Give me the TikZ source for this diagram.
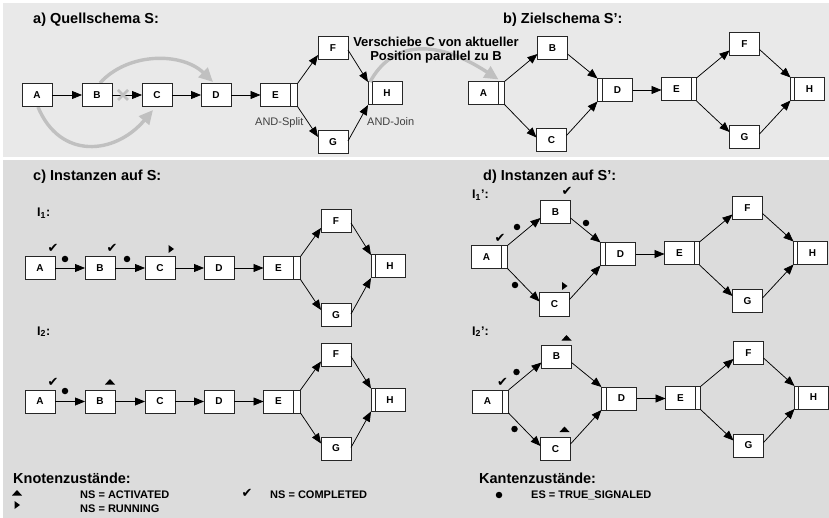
\documentclass[tikz,border=0pt]{standalone}
\usepackage{fontspec}
\setmainfont{Liberation Sans}
\newfontfamily\symfont{DejaVu Sans}
\usetikzlibrary{arrows.meta,calc}
\definecolor{panelA}{HTML}{E9E9E9}
\definecolor{panelB}{HTML}{DCDCDC}
\definecolor{movegray}{HTML}{C0C0C0}
\tikzset{
  box/.style={draw=black!85, fill=white, line width=1pt, minimum width=30pt, minimum height=23pt,
    inner sep=0pt, outer sep=0pt, font=\bfseries\fontsize{10}{10}\selectfont},
  barbox/.style={draw=black!85, fill=white, line width=1pt, minimum height=23pt, inner sep=0pt, outer sep=0pt},
  arr/.style={draw=black, line width=0.75pt, -{Triangle[length=10pt,width=8pt]}},
  movearr/.style={draw=movegray, line width=3.4pt, -{Triangle[length=14pt,width=13pt]}},
  title/.style={font=\bfseries\fontsize{14.5}{16}\selectfont, inner sep=0pt, anchor=base west},
  inst/.style={font=\bfseries\fontsize{12.5}{14}\selectfont, inner sep=0pt, anchor=base west},
  legend/.style={font=\bfseries\fontsize{11}{13}\selectfont, inner sep=0pt, anchor=base west},
  small/.style={font=\fontsize{11}{13}\selectfont, text=black!75, inner sep=0pt, anchor=base west},
  chk/.style={font=\symfont\fontsize{13}{13}\selectfont, inner sep=0pt},
  sdot/.style={circle, fill=black, minimum size=6.5pt, inner sep=0pt},
}
% linear schema S: #1 prefix, #2/#3 centre of A
\newcommand{\graphS}[3]{%
  \node[box] (#1A) at (#2,#3) {A};
  \node[box] (#1B) at (#2+60,#3) {B};
  \node[box] (#1C) at (#2+120,#3) {C};
  \node[box] (#1D) at (#2+179,#3) {D};
  \node[box] (#1E) at (#2+238.5,#3) {E};
  \node[barbox, minimum width=7pt, anchor=west] (#1Eb) at (#1E.east) {};
  \node[box] (#1F) at (#2+296,#3-47) {F};
  \node[box] (#1G) at (#2+296,#3+47) {G};
  \node[box] (#1H) at (#2+350,#3-1.5) {H};
  \node[barbox, minimum width=4pt, anchor=east] (#1Hb) at (#1H.west) {};
  \draw[arr] (#1A.east) -- (#1B.west);
  \draw[arr] (#1B.east) -- (#1C.west);
  \draw[arr] (#1C.east) -- (#1D.west);
  \draw[arr] (#1D.east) -- (#1E.west);
  \draw[arr] (#1Eb.north east) -- ([yshift=-7pt]#1F.west);
  \draw[arr] (#1Eb.south east) -- ([yshift=5pt]#1G.west);
  \draw[arr] ([yshift=-2pt]#1F.east) -- (#1Hb.north west);
  \draw[arr] ([yshift=1pt]#1G.east) -- (#1Hb.south west);
}
% target schema S': #1 prefix, #2/#3 centre of A
\newcommand{\graphSp}[3]{%
  \node[box] (#1A) at (#2,#3) {A};
  \node[barbox, minimum width=6pt, anchor=west] (#1Ab) at (#1A.east) {};
  \node[box] (#1B) at (#2+69,#3-45) {B};
  \node[box] (#1C) at (#2+68,#3+47.5) {C};
  \node[box] (#1D) at (#2+134,#3-3) {D};
  \node[barbox, minimum width=5pt, anchor=east] (#1Db) at (#1D.west) {};
  \node[box] (#1E) at (#2+193,#3-3.5) {E};
  \node[barbox, minimum width=5pt, anchor=west] (#1Eb) at (#1E.east) {};
  \node[box] (#1F) at (#2+261,#3-48.5) {F};
  \node[box] (#1G) at (#2+261,#3+44) {G};
  \node[box] (#1H) at (#2+326,#3-4) {H};
  \node[barbox, minimum width=4pt, anchor=east] (#1Hb) at (#1H.west) {};
  \draw[arr] (#1Ab.north east) -- ([yshift=-6pt]#1B.west);
  \draw[arr] (#1Ab.south east) -- ([yshift=3pt]#1C.west);
  \draw[arr] ([yshift=-6pt]#1B.east) -- (#1Db.north west);
  \draw[arr] ([yshift=5pt]#1C.east) -- (#1Db.south west);
  \draw[arr] (#1D.east) -- (#1D.east -| #1E.west);
  \draw[arr] (#1Eb.north east) -- ([yshift=-6pt]#1F.west);
  \draw[arr] (#1Eb.south east) -- ([yshift=5pt]#1G.west);
  \draw[arr] ([yshift=-5pt]#1F.east) -- (#1Hb.north west);
  \draw[arr] ([yshift=3pt]#1G.east) -- (#1Hb.south west);
}
\newcommand{\actmark}[1]{\fill[black] (#1) ++(-5,2.5) -- ++(10,0) -- ++(-5,-5.5) -- cycle;}
\newcommand{\runmark}[1]{\fill[black] (#1) ++(-2.5,-4) -- ++(0,8) -- ++(5.5,-4) -- cycle;}
\begin{document}
\begin{tikzpicture}[x=1pt,y=-1pt]
\useasboundingbox (0,0) rectangle (829,518);
\fill[panelA] (3,3) rectangle (829,157);
\fill[panelB] (3,160) rectangle (829,518);

% ---------- a) source schema
\node[title] (ta) at (33,24) {a) Quellschema S:};
\node[title] (tb) at (503,24) {b) Zielschema S’:};
\coordinate (gBDs) at (100,83);
\coordinate (gBDe) at (213,82);
\coordinate (gACs) at (38,107);
\coordinate (gACe) at (153,110);
\draw[movearr] (gBDs) .. controls (128,52) and (182,52) .. (gBDe);
\draw[movearr] (gACs) .. controls (60,160) and (115,155) .. (gACe);
\graphS{a}{37}{95}
\draw[movegray, line width=2.6pt] (118,90) -- (128,100) (118,100) -- (128,90);
\node[small] (andsplit) at (255,126) {AND-Split};
\node[small] (andjoin) at (367,126) {AND-Join};

% ---------- b) target schema
\graphSp{b}{483.5}{93}
\draw[movearr] ([xshift=2pt]aHb.north west) .. controls (390,45) and (430,35) .. ([yshift=2pt]bAb.north west);
\node[font=\bfseries\fontsize{13}{14.5}\selectfont, align=center, inner sep=0pt] (movetxt) at (436,50)
  {Verschiebe C von aktueller\\Position parallel zu B};

% ---------- c) instances on S
\node[title] (tc) at (33,181) {c) Instanzen auf S:};
\node[inst] (i1) at (37,217) {I\textsubscript{1}:};
\graphS{p}{40}{268}
\node[chk] (pchkA) at ([xshift=-2pt,yshift=8pt]pA.north east) {✔};
\node[chk] (pchkB) at ([xshift=-3pt,yshift=8pt]pB.north east) {✔};
\coordinate (prunC) at ([xshift=-4pt,yshift=7.5pt]pC.north east);
\runmark{prunC}
\node[sdot] (pdot1) at ([xshift=10pt,yshift=9pt]pA.east) {};
\node[sdot] (pdot2) at ([xshift=12pt,yshift=9pt]pB.east) {};

\node[inst] (i2) at (37,335) {I\textsubscript{2}:};
\graphS{q}{40}{401.5}
\node[chk] (qchkA) at ([xshift=-2pt,yshift=8pt]qA.north east) {✔};
\coordinate (qactB) at ([xshift=-5pt,yshift=8pt]qB.north east);
\actmark{qactB}
\node[sdot] (qdot1) at ([xshift=10pt,yshift=10.5pt]qA.east) {};

% ---------- d) instances on S'
\node[title] (td) at (483,181) {d) Instanzen auf S’:};
\node[inst] (i1p) at (472,199) {I\textsubscript{1}’:};
\graphSp{r}{486.5}{257}
\node[chk] (rchkA) at ([xshift=-1.5pt,yshift=7pt]rA.north east) {✔};
\node[chk] (rchkB) at ([xshift=-3.5pt,yshift=9pt]rB.north east) {✔};
\coordinate (rrunC) at ([xshift=-5pt,yshift=7pt]rC.north east);
\runmark{rrunC}
\node[sdot] (rdot1) at ([xshift=9.5pt,yshift=18.5pt]rAb.north east) {};
\node[sdot] (rdot2) at ([xshift=15.5pt,yshift=-11pt]rB.east) {};
\node[sdot] (rdot3) at ([xshift=7.5pt,yshift=-16.5pt]rAb.south east) {};

\node[inst] (i2p) at (472,335) {I\textsubscript{2}’:};
\graphSp{s}{487.5}{401.5}
\node[chk] (schkA) at ([xshift=0pt,yshift=8pt]sA.north east) {✔};
\coordinate (sactB) at ([xshift=-5pt,yshift=7pt]sB.north east);
\actmark{sactB}
\coordinate (sactC) at ([xshift=-6pt,yshift=8pt]sC.north east);
\actmark{sactC}
\node[sdot] (sdot1) at ([xshift=8pt,yshift=18pt]sAb.north east) {};
\node[sdot] (sdot2) at ([xshift=6pt,yshift=-16pt]sAb.south east) {};

% ---------- legend
\node[title] (kn) at (13,483) {Knotenzustände:};
\coordinate (lact) at (17,493);
\actmark{lact}
\node[legend] (lacttxt) at (80,498) {NS = ACTIVATED};
\coordinate (lrun) at (17,505);
\runmark{lrun}
\node[legend] (lruntxt) at (80,512) {NS = RUNNING};
\node[chk] (lchk) at (247,493) {✔};
\node[legend] (lchktxt) at (270,498) {NS = COMPLETED};
\node[title] (ka) at (479,483) {Kantenzustände:};
\node[sdot] (ldot) at (499,495) {};
\node[legend] (ldottxt) at (531,498) {ES = TRUE\_SIGNALED};
\end{tikzpicture}
\end{document}
